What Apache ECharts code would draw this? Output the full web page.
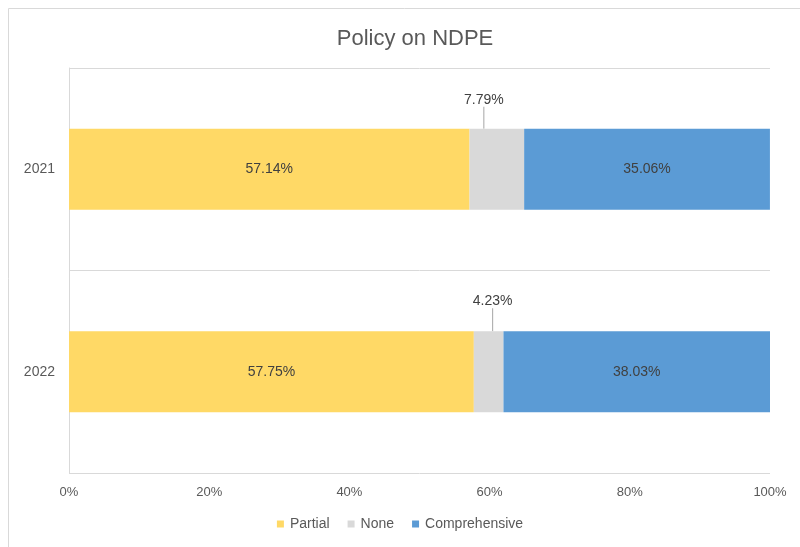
<!DOCTYPE html>
<html lang="en" style="height: 100%">
<head>
  <meta charset="utf-8" />
  <script src="https://cdn.jsdelivr.net/npm/echarts@6/dist/echarts.min.js"></script>
</head>
<body style="height: 100%; margin: 0; background: #fff">
  <div id="container" style="width: 800px; height: 547px"></div>
  <script type="text/javascript">
    var years = ["2021", "2022"];
    var partial = [57.14, 57.75];
    var none = [7.79, 4.23];
    var comprehensive = [35.06, 38.03];
    var noneLabelShift = [[-13, -16], [4, -17]];

    var font = "'Liberation Sans', Arial, sans-serif";
    var textColor = "#595959";
    var myChart = echarts.init(document.getElementById("container"), null, { renderer: "canvas" });

    function pct(p) { return p.value.toFixed(2) + "%"; }

    var option = {
      animation: false,
      textStyle: { fontFamily: font },
      graphic: [{
        type: "rect",
        shape: { x: 8.5, y: 8.5, width: 820, height: 560 },
        style: { fill: "none", stroke: "#d9d9d9", lineWidth: 1 }
      }],
      title: {
        text: "Policy on NDPE",
        left: 410, top: 23, textAlign: "center",
        textStyle: { fontSize: 22, fontWeight: "normal", color: textColor, fontFamily: font }
      },
      legend: {
        bottom: 11, left: "center",
        itemWidth: 7, itemHeight: 7, itemGap: 18,
        icon: "rect",
        textStyle: { fontSize: 14, color: textColor, fontFamily: font, padding: [0, 0, 0, 1] },
        data: ["Partial", "None", "Comprehensive"]
      },
      grid: { left: 69, right: 30, top: 68, bottom: 74 },
      xAxis: {
        type: "value", min: 0, max: 100, interval: 20,
        axisLine: { show: false }, axisTick: { show: false },
        splitLine: { show: false },
        axisLabel: { formatter: "{value}%", color: textColor, fontSize: 13, margin: 13 }
      },
      yAxis: {
        type: "category", data: years, inverse: true,
        axisLine: { show: true, lineStyle: { color: "#d9d9d9" } },
        axisTick: { show: false },
        splitLine: { show: true, lineStyle: { color: "#d9d9d9" } },
        axisLabel: { color: textColor, fontSize: 14, margin: 14 }
      },
      series: [
        {
          name: "Partial", type: "bar", stack: "all", barCategoryGap: "60%",
          itemStyle: { color: "#FFD966" },
          label: { show: true, position: "inside", formatter: pct, color: "#404040", fontSize: 14 },
          data: partial
        },
        {
          name: "None", type: "bar", stack: "all",
          itemStyle: { color: "#D9D9D9" },
          label: { show: true, position: "top", distance: 6, formatter: pct, color: "#404040", fontSize: 14 },
          labelLine: { show: true, lineStyle: { color: "#a6a6a6", width: 1 } },
          labelLayout: function (p) {
            var s = noneLabelShift[p.dataIndex];
            return { dx: s[0], dy: s[1] };
          },
          data: none
        },
        {
          name: "Comprehensive", type: "bar", stack: "all",
          itemStyle: { color: "#5B9BD5" },
          label: { show: true, position: "inside", formatter: pct, color: "#404040", fontSize: 14 },
          data: comprehensive
        }
      ]
    };
    myChart.setOption(option);
  </script>
</body>
</html>
